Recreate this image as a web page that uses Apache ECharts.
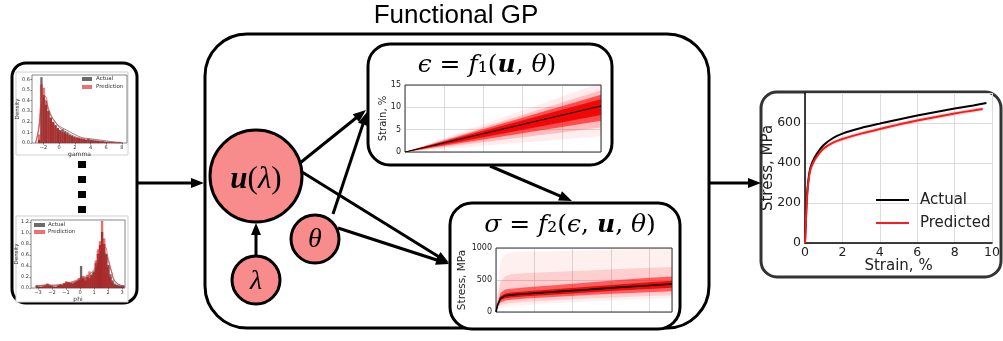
<!DOCTYPE html>
<html><head><meta charset="utf-8">
<script src="https://cdn.jsdelivr.net/npm/echarts@6/dist/echarts.min.js"></script>
<style>html,body{margin:0;padding:0;background:#fff}#c{width:1003px;height:341px}</style>
</head><body><div id="c"></div>
<script>
// ---------------- data ----------------
const gammaX = [-2.55,-2.25,-1.95,-1.65,-1.35,-1.05,-0.75,-0.45,-0.15,0.15,0.45,0.75,1.05,1.35,1.65,1.95,2.25,2.55,2.85,3.15,3.45,3.75,4.05,4.35,4.65,4.95,5.25,5.55,5.85,6.15,6.45,6.75,7.05,7.35,7.65,7.95];
const gammaActual = [0.03,0.62,0.45,0.36,0.30,0.24,0.20,0.17,0.14,0.12,0.13,0.11,0.10,0.08,0.07,0.06,0.05,0.05,0.04,0.04,0.03,0.04,0.03,0.03,0.02,0.02,0.02,0.02,0.01,0.01,0.01,0.01,0.01,0.00,0.01,0.00];
const gammaPred = [0.08,0.55,0.52,0.40,0.30,0.23,0.19,0.16,0.14,0.12,0.10,0.09,0.08,0.07,0.06,0.05,0.05,0.04,0.04,0.03,0.03,0.03,0.02,0.02,0.02,0.02,0.01,0.01,0.01,0.01,0.01,0.01,0.00,0.00,0.00,0.00];
const gammaKdeX = [-3,-2.6,-2.2,-1.8,-1.4,-1,-0.5,0,1,2,3,4,5,6,7,8];
const gammaKdeActual = [0,0.12,0.36,0.40,0.32,0.25,0.20,0.16,0.12,0.08,0.05,0.04,0.03,0.02,0.01,0.005];
const gammaKdePred = [0,0.15,0.42,0.44,0.34,0.26,0.20,0.15,0.10,0.06,0.04,0.03,0.02,0.01,0.005,0];
const gammaTicks = [-2,0,2,4,6,8];
const gammaYTicks = [0,0.1,0.2,0.3,0.4,0.5,0.6];

const phiX = [-3.075,-2.925,-2.775,-2.625,-2.475,-2.325,-2.175,-2.025,-1.875,-1.725,-1.575,-1.425,-1.275,-1.125,-0.975,-0.825,-0.675,-0.525,-0.375,-0.225,-0.075,0.075,0.225,0.375,0.525,0.675,0.825,0.975,1.125,1.275,1.425,1.575,1.725,1.875,2.025,2.175,2.325,2.475,2.625,2.775,2.925,3.075];
const phiActual = [0.05,0.03,0.02,0.03,0.05,0.08,0.06,0.04,0.03,0.02,0.04,0.06,0.05,0.08,0.12,0.10,0.09,0.08,0.10,0.12,0.15,0.40,0.18,0.14,0.20,0.18,0.24,0.30,0.45,0.62,0.78,1.02,0.80,0.62,0.42,0.25,0.14,0.08,0.06,0.05,0.04,0.05];
const phiPred = [0.03,0.02,0.03,0.04,0.06,0.07,0.05,0.03,0.02,0.03,0.05,0.07,0.06,0.09,0.10,0.11,0.10,0.09,0.12,0.14,0.18,0.20,0.22,0.20,0.24,0.30,0.22,0.28,0.50,0.70,0.85,1.22,0.90,0.60,0.38,0.20,0.10,0.05,0.04,0.03,0.02,0.03];
const phiKdeX = [-3.2,-2.5,-2,-1.5,-1,-0.5,0,0.5,1,1.25,1.5,1.75,2,2.25,2.5,3,3.2];
const phiKdeActual = [0.03,0.05,0.05,0.05,0.08,0.10,0.14,0.18,0.30,0.45,0.62,0.64,0.50,0.30,0.12,0.04,0.03];
const phiKdePred = [0.03,0.05,0.05,0.06,0.09,0.12,0.17,0.22,0.34,0.50,0.72,0.75,0.55,0.30,0.12,0.04,0.03];
const phiTicks = [-3,-2,-1,0,1,2,3];
const phiYTicks = [0,0.2,0.4,0.6,0.8,1.0,1.2];

// epsilon = f1(u, theta): fan of strain paths (start / end values)
const epsT = [0, 5];
const epsMean = [0, 10.3];
const epsFaintLo = [0, 3.5],  epsFaintHi = [0, 15.5];
const epsMidLo = [0, 5.5],    epsMidHi = [0, 13.8];
const epsDenseLo = [0, 7.0],  epsDenseHi = [0, 12.8];
const epsCoreLo = [0, 8.3],   epsCoreHi = [0, 11.8];

// sigma = f2(eps, u, theta): fan of stress curves
const sigX      = [0, 0.1, 0.3, 0.6, 1, 2, 4, 6, 8, 10, 11.5];
const sigMean   = [0, 110, 215, 255, 268, 285, 318, 350, 385, 415, 437];
const sigCoreLo = [0, 95, 185, 215, 228, 245, 275, 305, 335, 360, 378];
const sigCoreHi = [0, 125, 245, 290, 305, 325, 360, 395, 430, 465, 488];
const sigDenseLo= [0, 80, 150, 180, 190, 210, 240, 265, 290, 310, 323];
const sigDenseHi= [0, 150, 300, 350, 365, 385, 420, 460, 500, 535, 556];
const sigMidLo  = [0, 60, 110, 130, 140, 160, 185, 210, 230, 250, 262];
const sigMidHi  = [0, 250, 470, 560, 590, 610, 630, 650, 670, 690, 705];
const sigFaintLo= [0, 30, 60, 80, 90, 110, 140, 165, 185, 205, 218];
const sigFaintHi= [0, 400, 800, 900, 930, 945, 955, 965, 975, 985, 993];

// final stress-strain curve
const strainA = [0,0.05,0.1,0.2,0.3,0.5,0.75,1,1.5,2,3,4,5,6,7,8,9,9.7];
const stressA = [0,120,230,330,380,425,462,490,525,547,575,597,618,637,655,672,688,700];
const strainP = [0,0.05,0.1,0.2,0.3,0.5,0.75,1,1.5,2,3,4,5,6,7,8,9,9.5];
const stressP = [0,115,220,320,370,412,447,473,502,520,547,570,592,612,630,648,663,670];
const stressPBand = [0,5,8,10,10,10,10,10,10,10,10,10,10,10,10,10,10,10];

// ---------------- helpers ----------------
const zip = (xs, ys) => xs.map((x, i) => [x, ys[i]]);
const FONT = 'DejaVu Sans';
// filled band between lo and hi, drawn through the axis scales
function band(xi, yi, xs, lo, hi, color) {
  return {type:'custom', xAxisIndex:xi, yAxisIndex:yi, data:[[xs[0], lo[0]]], silent:true, z:2,
    renderItem:(params, api) => {
      const top = xs.map((x, i) => api.coord([x, hi[i]]));
      const bot = xs.map((x, i) => api.coord([x, lo[i]])).reverse();
      return {type:'polygon', shape:{points:top.concat(bot)}, style:{fill:color}};
    }};
}
const minus = v => (v < 0 ? '\u2212' + (-v) : '' + v);

function histAxes(gi, xmin, xmax, xt, ymax, yt, xname) {
  return {
    x: {type:'value', gridIndex:gi, min:xmin, max:xmax, name:xname, nameLocation:'middle', nameGap:8, nameMoveOverlap:false,
        nameTextStyle:{fontFamily:FONT, fontSize:6, color:'#333'},
        axisLine:{show:false, onZero:false}, splitLine:{show:false},
        axisTick:{show:true, length:1.5, lineStyle:{color:'#333', width:0.6}, customValues:xt},
        axisLabel:{fontFamily:FONT, fontSize:5, color:'#333', margin:2, customValues:xt, formatter:minus}},
    y: {type:'value', gridIndex:gi, min:0, max:ymax, name:'Density', nameLocation:'middle', nameGap:11, nameRotate:90, nameMoveOverlap:false,
        nameTextStyle:{fontFamily:FONT, fontSize:5.5, color:'#333'},
        axisLine:{show:false, onZero:false}, splitLine:{show:false},
        axisTick:{show:true, length:1.5, lineStyle:{color:'#333', width:0.6}, customValues:yt},
        axisLabel:{fontFamily:FONT, fontSize:5, color:'#333', margin:2, customValues:yt, formatter:v => v.toFixed(1)}}
  };
}
const hA = histAxes(0, -3.45, 8.65, gammaTicks, 0.64, gammaYTicks, 'gamma');
const hB = histAxes(1, -3.5, 3.21, phiTicks, 1.236, phiYTicks, 'phi');

function histSeries(gi, xs, act, pred, kx, ka, kp) {
  return [
    {type:'bar', xAxisIndex:gi, yAxisIndex:gi, name:'hist actual ' + gi, data:zip(xs, act), barWidth:2.3, barGap:'-100%',
     itemStyle:{color:'rgba(70,70,70,0.8)', borderColor:'rgba(40,40,40,0.6)', borderWidth:0.2}, z:2},
    {type:'bar', xAxisIndex:gi, yAxisIndex:gi, name:'hist pred ' + gi, data:zip(xs, pred), barWidth:2.3, barGap:'-100%',
     itemStyle:{color:'rgba(235,0,0,0.55)', borderColor:'rgba(120,0,0,0.6)', borderWidth:0.2}, z:3},
    {type:'line', xAxisIndex:gi, yAxisIndex:gi, data:zip(kx, ka), symbol:'none', smooth:true,
     lineStyle:{color:'#555', width:0.7}, z:4},
    {type:'line', xAxisIndex:gi, yAxisIndex:gi, data:zip(kx, kp), symbol:'none', smooth:true,
     lineStyle:{color:'#e33', width:0.7}, z:4}
  ];
}

const tickFont = {fontFamily:FONT, fontSize:8, color:'#222'};
const series = [].concat(
  histSeries(0, gammaX, gammaActual, gammaPred, gammaKdeX, gammaKdeActual, gammaKdePred),
  histSeries(1, phiX, phiActual, phiPred, phiKdeX, phiKdeActual, phiKdePred),
  [band(2, 2, epsT, epsFaintLo, epsFaintHi, 'rgba(255,0,0,0.07)'),
   band(2, 2, epsT, epsMidLo, epsMidHi, 'rgba(255,0,0,0.2)'),
   band(2, 2, epsT, epsDenseLo, epsDenseHi, 'rgba(255,0,0,0.6)'),
   band(2, 2, epsT, epsCoreLo, epsCoreHi, 'rgba(238,0,0,0.9)'),
   {type:'line', xAxisIndex:2, yAxisIndex:2, data:zip(epsT, epsMean), symbol:'none', lineStyle:{color:'#000', width:1.2}, z:5},
   band(3, 3, sigX, sigFaintLo, sigFaintHi, 'rgba(255,0,0,0.06)'),
   band(3, 3, sigX, sigMidLo, sigMidHi, 'rgba(255,0,0,0.14)'),
   band(3, 3, sigX, sigDenseLo, sigDenseHi, 'rgba(255,0,0,0.55)'),
   band(3, 3, sigX, sigCoreLo, sigCoreHi, 'rgba(238,0,0,0.9)'),
   {type:'line', xAxisIndex:3, yAxisIndex:3, data:zip(sigX, sigMean), symbol:'none', lineStyle:{color:'#000', width:1.6}, z:5},
   band(4, 4, strainP, stressP.map((v, i) => v - stressPBand[i]), stressP.map((v, i) => v + stressPBand[i]), 'rgba(255,0,0,0.15)'),
   {type:'line', name:'Actual', xAxisIndex:4, yAxisIndex:4, data:zip(strainA, stressA), symbol:'none', smooth:0.2,
    lineStyle:{color:'#000', width:2}, itemStyle:{color:'#000'}, z:5},
   {type:'line', name:'Predicted', xAxisIndex:4, yAxisIndex:4, data:zip(strainP, stressP), symbol:'none', smooth:0.2,
    lineStyle:{color:'#ff1a1a', width:2}, itemStyle:{color:'#ff1a1a'}, z:6}]
);

// ---------------- diagram shapes ----------------
const G = [];
function arrow(x1, y1, x2, y2, len, hw) {
  const dx = x2 - x1, dy = y2 - y1, d = Math.hypot(dx, dy), ux = dx / d, uy = dy / d;
  const bx = x2 - ux * len, by = y2 - uy * len;
  G.push({type:'line', z:20, shape:{x1, y1, x2:bx + ux, y2:by + uy}, style:{stroke:'#000', lineWidth:3}});
  G.push({type:'polygon', z:20, shape:{points:[[x2, y2], [bx - uy * hw, by + ux * hw], [bx + uy * hw, by - ux * hw]]},
          style:{fill:'#000'}});
}
// boxes
G.push({type:'rect', z:-10, shape:{x:205, y:34, width:504, height:294, r:42}, style:{fill:'#fff', stroke:'#000', lineWidth:3}});
G.push({type:'rect', z:-5, shape:{x:368, y:44, width:244, height:121, r:22}, style:{fill:'#fff', stroke:'#000', lineWidth:3}});
G.push({type:'rect', z:-5, shape:{x:450, y:203, width:230, height:126, r:22}, style:{fill:'#fff', stroke:'#000', lineWidth:3}});
G.push({type:'rect', z:-5, shape:{x:12, y:63, width:125, height:240, r:14}, style:{fill:'#fff', stroke:'#000', lineWidth:3}});
G.push({type:'rect', z:-5, shape:{x:761, y:92, width:240, height:185, r:16}, style:{fill:'#fff', stroke:'#333', lineWidth:3}});
// hist figure frames
G.push({type:'rect', z:-4, shape:{x:16, y:72, width:112, height:83}, style:{fill:'#fff', stroke:'#cfcfcf', lineWidth:1}});
G.push({type:'rect', z:-4, shape:{x:16, y:216, width:112, height:86}, style:{fill:'#fff', stroke:'#cfcfcf', lineWidth:1}});
// hist legends
G.push({type:'rect', z:10, shape:{x:82, y:77, width:10, height:4}, style:{fill:'#6b6b6b'}});
G.push({type:'text', z:10, style:{x:96, y:79, text:'Actual', font:'5.5px "DejaVu Sans"', fill:'#333', verticalAlign:'middle'}});
G.push({type:'rect', z:10, shape:{x:82, y:85, width:10, height:4}, style:{fill:'#f07070'}});
G.push({type:'text', z:10, style:{x:96, y:87, text:'Prediction', font:'5.5px "DejaVu Sans"', fill:'#333', verticalAlign:'middle'}});
G.push({type:'rect', z:10, shape:{x:34, y:223, width:11, height:4}, style:{fill:'#6b6b6b'}});
G.push({type:'text', z:10, style:{x:48, y:225, text:'Actual', font:'5.5px "DejaVu Sans"', fill:'#333', verticalAlign:'middle'}});
G.push({type:'rect', z:10, shape:{x:34, y:230, width:11, height:4}, style:{fill:'#f07070'}});
G.push({type:'text', z:10, style:{x:48, y:232, text:'Prediction', font:'5.5px "DejaVu Sans"', fill:'#333', verticalAlign:'middle'}});
// dots
[161, 176, 191, 206].forEach(y => G.push({type:'rect', z:10, shape:{x:78, y:y, width:8, height:7}, style:{fill:'#000'}}));
// title
G.push({type:'text', z:10, style:{x:456, y:16, text:'Functional GP', font:'26px "Liberation Sans"', fill:'#000', align:'center', verticalAlign:'middle'}});
// arrows
arrow(137, 183, 204, 183, 13, 5);
arrow(709, 183, 761, 183, 13, 5);
arrow(256, 257, 256, 223, 12, 5);
arrow(300, 163, 366, 110, 13, 5);
arrow(333, 214, 367, 112, 13, 5);
arrow(302, 172, 449, 263, 13, 5);
arrow(338, 228, 449, 264, 13, 5);
arrow(490, 166, 572, 201, 13, 5);
// circles
const circ = (cx, cy, r) => G.push({type:'circle', z:25, shape:{cx, cy, r}, style:{fill:'#f88c8c', stroke:'#000', lineWidth:3}});
circ(256, 176, 46);
circ(256, 280, 24);
circ(315, 239, 24);
const MF = 'DejaVu Serif';
const mathRich = {
  i:{fontFamily:MF, fontStyle:'italic', fontSize:25, fill:'#000'},
  r:{fontFamily:MF, fontSize:25, fill:'#000'},
  b:{fontFamily:MF, fontStyle:'italic', fontWeight:'bold', fontSize:25, fill:'#000'}
};
G.push({type:'text', z:30, style:{x:256, y:180, text:'{b|u}{r|(}{i|λ}{r|)}', align:'center', verticalAlign:'middle',
  rich:{b:{fontFamily:'Liberation Serif', fontStyle:'italic', fontWeight:'bold', fontSize:31, fill:'#000'},
        r:{fontFamily:'Liberation Serif', fontSize:31, fill:'#000'},
        i:{fontFamily:'Liberation Serif', fontStyle:'italic', fontSize:31, fill:'#000'}}}});
G.push({type:'text', z:30, style:{x:256, y:282, text:'λ', font:'italic 28px "Liberation Serif"', fill:'#000', align:'center', verticalAlign:'middle'}});
G.push({type:'text', z:30, style:{x:315, y:240, text:'θ', font:'italic 28px "Liberation Serif"', fill:'#000', align:'center', verticalAlign:'middle'}});
G.push({type:'text', z:30, style:{x:487, y:65, text:'{i|ϵ}{r| = }{i|f}{r|₁(}{b|u}{r|, }{i|θ}{r|)}', align:'center', verticalAlign:'middle', rich:mathRich}});
G.push({type:'text', z:30, style:{x:570, y:225, text:'{i|σ}{r| = }{i|f}{r|₂(}{i|ϵ}{r|, }{b|u}{r|, }{i|θ}{r|)}', align:'center', verticalAlign:'middle', rich:mathRich}});

const gridLine = {show:true, lineStyle:{color:'#dcdcdc', width:1}};
const option = {
  animation:false,
  backgroundColor:'#fff',
  grid:[
    {left:32, top:75, width:95, height:68, show:true, borderColor:'#555', borderWidth:0.7, backgroundColor:'transparent', z:3},
    {left:31, top:220, width:94, height:68, show:true, borderColor:'#555', borderWidth:0.7, backgroundColor:'transparent', z:3},
    {left:405, top:85, width:196, height:67, show:true, borderColor:'#333', borderWidth:1, backgroundColor:'transparent', z:3},
    {left:496, top:248, width:176, height:64, show:true, borderColor:'#333', borderWidth:1, backgroundColor:'transparent', z:3},
    {left:805, top:93, width:192, height:150}
  ],
  xAxis:[
    hA.x, hB.x,
    {type:'value', gridIndex:2, min:0, max:5, interval:1, axisLine:{show:false}, axisTick:{show:false}, axisLabel:{show:false}, splitLine:gridLine},
    {type:'value', gridIndex:3, min:0, max:11.5, interval:2.5, axisLine:{show:false}, axisTick:{show:false}, axisLabel:{show:false}, splitLine:gridLine},
    {type:'value', gridIndex:4, min:0, max:10, interval:2, axisLine:{lineStyle:{color:'#000', width:1.5}}, axisTick:{show:false},
     axisLabel:{fontFamily:FONT, fontSize:12.5, color:'#222', margin:3}, splitLine:gridLine,
     name:'Strain, %', nameLocation:'middle', nameGap:16, nameMoveOverlap:false, nameTextStyle:{fontFamily:FONT, fontSize:15, color:'#222'}}
  ],
  yAxis:[
    hA.y, hB.y,
    {type:'value', gridIndex:2, min:0, max:15, interval:5, axisLine:{show:false}, axisTick:{show:false},
     axisLabel:Object.assign({margin:4}, tickFont), splitLine:gridLine,
     name:'Strain, %', nameLocation:'middle', nameGap:17, nameMoveOverlap:false, nameTextStyle:{fontFamily:FONT, fontSize:10, color:'#222'}},
    {type:'value', gridIndex:3, min:0, max:1000, interval:500, axisLine:{show:false}, axisTick:{show:false},
     axisLabel:Object.assign({margin:4, formatter:v => String(v)}, tickFont), splitLine:gridLine,
     name:'Stress, MPa', nameLocation:'middle', nameGap:28, nameMoveOverlap:false, nameTextStyle:{fontFamily:FONT, fontSize:10.5, color:'#222'}},
    {type:'value', gridIndex:4, min:0, max:750, interval:200, axisLine:{show:true, onZero:false, lineStyle:{color:'#000', width:1.5}}, axisTick:{show:false},
     axisLabel:{fontFamily:FONT, fontSize:12.5, color:'#222', margin:4, formatter:v => (v % 200 === 0 ? String(v) : '')}, splitLine:gridLine,
     name:'Stress, MPa', nameLocation:'middle', nameGap:29, nameMoveOverlap:false, nameTextStyle:{fontFamily:FONT, fontSize:15, color:'#222'}}
  ],
  legend:{data:['Actual', 'Predicted'], orient:'vertical', left:871, top:187, icon:'rect', itemWidth:33, itemHeight:2.2, itemGap:7,
    textStyle:{fontFamily:FONT, fontSize:15, lineHeight:16, color:'#222', padding:[0, 0, 0, 6]}},
  graphic:{elements:G},
  series:series
};
const chart = echarts.init(document.getElementById('c'));
chart.setOption(option);
</script>
</body></html>
